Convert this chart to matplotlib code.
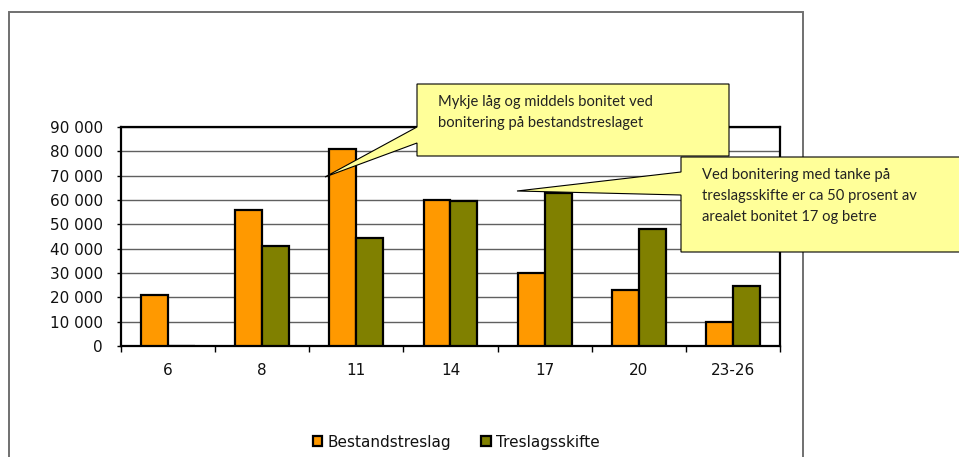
import matplotlib.pyplot as plt
from matplotlib.patches import Polygon, Rectangle
from matplotlib.ticker import FuncFormatter, FixedLocator

CATEGORIES = ["6", "8", "11", "14", "17", "20", "23-26"]
BESTANDSTRESLAG = [21000, 56000, 81000, 60000, 30000, 23000, 10000]
TRESLAGSSKIFTE = [0, 41000, 44500, 59500, 63000, 48000, 24500]
SERIES_NAMES = ["Bestandstreslag", "Treslagsskifte"]
CALLOUT_1 = "Mykje låg og middels bonitet ved\nbonitering på bestandstreslaget"
CALLOUT_2 = ("Ved bonitering med tanke på\ntreslagsskifte er ca 50 prosent av\n"
             "arealet bonitet 17 og betre")

W, H = 959, 457


def px(x, y):
    # image pixel coords (top-left origin) -> figure fraction
    return (x / W, 1 - y / H)


fig = plt.figure(figsize=(W / 100, H / 100), dpi=100)

# outer chart border
x0, y0 = px(8.5, 12)
x1, _ = px(803, 0)
fig.patches.append(Rectangle((x0, -0.05), x1 - x0, y0 + 0.05, transform=fig.transFigure,
                             fill=False, edgecolor="#707070", linewidth=1.4, zorder=0))

left, top = px(121, 127)
right, bottom = px(780, 346)
ax = fig.add_axes([left, bottom, right - left, top - bottom])

n = len(CATEGORIES)
w = 1 / 3.5
xs = [i + 0.5 for i in range(n)]
ax.bar([x - w / 2 for x in xs], BESTANDSTRESLAG, width=w, color="#FF9900",
       edgecolor="black", linewidth=1.6, label=SERIES_NAMES[0], zorder=3)
ax.bar([x + w / 2 for x in xs], TRESLAGSSKIFTE, width=w, color="#808000",
       edgecolor="black", linewidth=1.6, label=SERIES_NAMES[1], zorder=3)

ax.set_xlim(0, n)
ax.set_ylim(0, 90000)
ax.set_yticks(range(0, 90001, 10000))
ax.yaxis.set_major_formatter(FuncFormatter(lambda v, p: f"{int(v):,}".replace(",", " ")))
ax.yaxis.grid(True, color="#606060", linewidth=1.0, zorder=0)
ax.set_axisbelow(True)

ax.xaxis.set_major_locator(FixedLocator(range(n + 1)))
ax.xaxis.set_minor_locator(FixedLocator(xs))
ax.set_xticklabels([], minor=False)
ax.set_xticklabels(CATEGORIES, minor=True)
ax.tick_params(axis="x", which="major", length=4, width=1, direction="out")
ax.tick_params(axis="x", which="minor", length=0, pad=12, labelsize=11, labelcolor="#111111")
ax.tick_params(axis="y", length=3, width=1, direction="out", pad=10,
               labelsize=11, labelcolor="#111111")
for s in ax.spines.values():
    s.set_linewidth(1.6)
    s.set_color("black")

# legend
handles, labels = ax.get_legend_handles_labels()
fig.legend(handles, labels, loc="center", bbox_to_anchor=px(456, 442), ncol=2,
           frameon=False, fontsize=11, handlelength=0.65, handleheight=0.65,
           handletextpad=0.3, columnspacing=2.0, labelcolor="#111111")


# callouts
def callout(box, base, tip, text, text_xy):
    bx0, by0, bx1, by1 = box
    pts = [(bx0, by0), (bx1, by0), (bx1, by1), (bx0, by1), (bx0, base[1]),
           tip, (bx0, base[0])]
    poly = Polygon([px(*p) for p in pts], closed=True, transform=fig.transFigure,
                   facecolor="#FFFF99", edgecolor="black", linewidth=0.8, zorder=5)
    fig.patches.append(poly)
    fig.text(*px(*text_xy), text, transform=fig.transFigure, ha="left", va="top",
             fontsize=10.6, family="Lato", color="#222222", linespacing=1.62, zorder=6)


callout((417, 84, 729, 156), (127, 143), (325, 177), CALLOUT_1, (438, 95))
callout((681, 157, 975, 252), (172, 195), (517, 191), CALLOUT_2, (702, 168))

fig.savefig("out.png", dpi=100)
